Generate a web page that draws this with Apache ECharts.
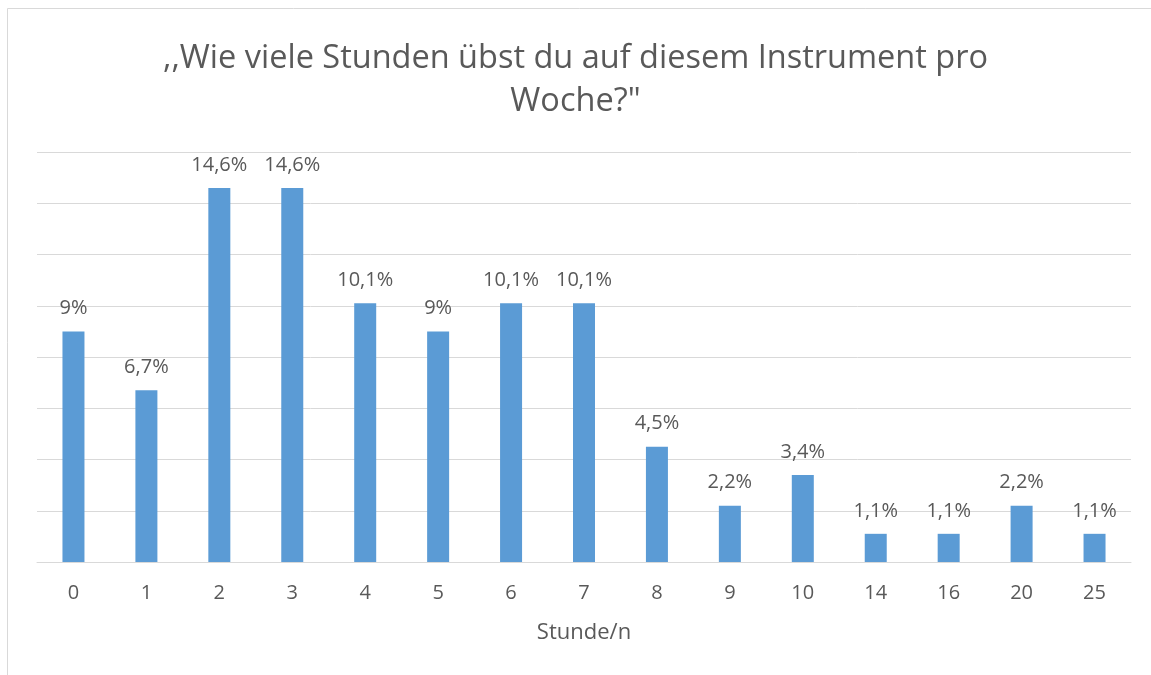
<!DOCTYPE html>
<html>
<head>
<meta charset="utf-8">
<script src="https://cdn.jsdelivr.net/npm/echarts@6/dist/echarts.min.js"></script>
<style>
    html, body {
        margin: 0;
        padding: 0;
        background: #fff;
    }
    #chart {
        width: 1151px;
        height: 675px;
    }
</style>
</head>
<body>
<div id="chart"></div>
<script>
const hours = ['0', '1', '2', '3', '4', '5', '6', '7', '8', '9', '10', '14', '16', '20', '25'];
const shares = [9, 6.7, 14.6, 14.6, 10.1, 9, 10.1, 10.1, 4.5, 2.2, 3.4, 1.1, 1.1, 2.2, 1.1];

const titleText = ',,Wie viele Stunden übst du auf diesem Instrument pro\nWoche?"';
const axisName = 'Stunde/n';

const textColor = '#595959';
const gridColor = '#d9d9d9';
const fontFamily = '"Open Sans", "Noto Sans", sans-serif';

const formatPercent = v => String(v).replace('.', ',') + '%';

const chart = echarts.init(document.getElementById('chart'));

chart.setOption({
    animation: false,
    backgroundColor: '#fff',
    textStyle: {
        fontFamily
    },
    graphic: [{
        type: 'rect',
        shape: {x: 7.5, y: 8.5, width: 1300, height: 800},
        style: {fill: 'none', stroke: gridColor, lineWidth: 1},
        silent: true
    }],
    title: {
        text: titleText,
        left: 'center',
        top: 32,
        textStyle: {
            color: textColor,
            fontFamily,
            fontSize: 32.5,
            fontWeight: 'normal',
            lineHeight: 43
        }
    },
    grid: {
        left: 37,
        right: 20,
        top: 152,
        bottom: 113,
        containLabel: false
    },
    xAxis: {
        type: 'category',
        data: hours,
        name: axisName,
        nameLocation: 'middle',
        nameGap: 60,
        nameTextStyle: {
            color: textColor,
            fontSize: 22,
            fontFamily
        },
        axisLine: {lineStyle: {color: gridColor, width: 1}},
        axisTick: {show: false},
        axisLabel: {
            color: textColor,
            fontSize: 20,
            margin: 21,
            fontFamily
        }
    },
    yAxis: {
        type: 'value',
        min: 0,
        max: 16,
        interval: 2,
        axisLine: {show: false},
        axisTick: {show: false},
        axisLabel: {show: false},
        splitLine: {lineStyle: {color: gridColor, width: 1}}
    },
    series: [{
        type: 'bar',
        data: shares,
        barWidth: 22,
        itemStyle: {color: '#5b9bd5'},
        label: {
            show: true,
            position: 'top',
            distance: 13,
            color: textColor,
            fontSize: 20,
            fontFamily,
            formatter: p => formatPercent(p.value)
        }
    }]
});
</script>
</body>
</html>
